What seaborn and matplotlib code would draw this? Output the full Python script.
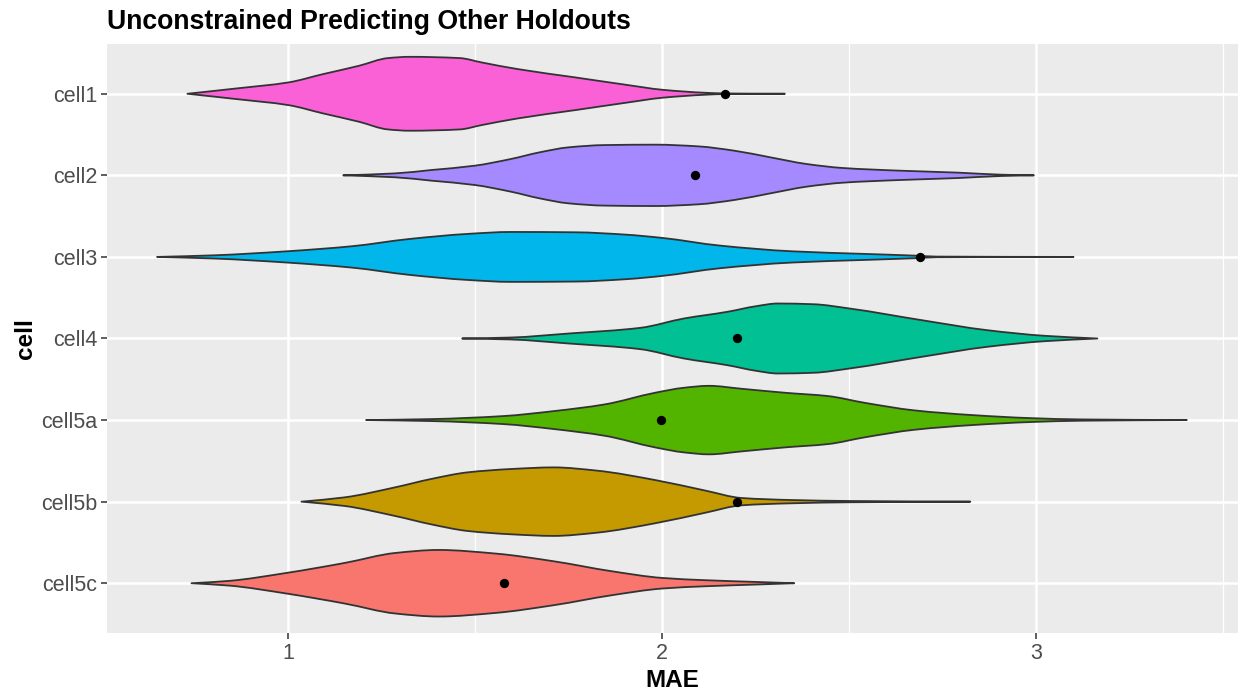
import matplotlib
matplotlib.use("Agg")
import matplotlib.pyplot as plt
from matplotlib.ticker import FixedLocator
from matplotlib.path import Path
from matplotlib.patches import PathPatch
import seaborn as sns
import numpy as np

# ---------------- data ----------------
categories = ["cell1", "cell2", "cell3", "cell4", "cell5a", "cell5b", "cell5c"]
point_mae = [2.168, 2.089, 2.689, 2.199, 1.998, 2.199, 1.577]
x_ticks = [1, 2, 3]

# violin outlines: MAE positions and half-widths (in category units)
cell1_mae = [0.730, 0.861, 1.000, 1.093, 1.189, 1.266, 1.324, 1.459, 1.517, 1.614, 1.768, 1.903, 2.000, 2.116, 2.168, 2.328]
cell1_width = [0, .065, .139, .241, .343, .437, .453, .437, .384, .302, .200, .110, .049, .012, .004, 0]

cell2_mae = [1.147, 1.286, 1.382, 1.498, 1.595, 1.672, 1.749, 1.846, 1.981, 2.097, 2.193, 2.290, 2.386, 2.483, 2.637, 2.792, 2.907, 2.994]
cell2_width = [0, .024, .065, .118, .200, .282, .343, .371, .376, .355, .302, .220, .139, .090, .057, .033, .008, 0]

cell3_mae = [0.649, 0.803, 0.996, 1.170, 1.324, 1.479, 1.595, 1.768, 1.903, 2.000, 2.154, 2.347, 2.541, 2.676, 2.734, 3.100]
cell3_width = [0, .020, .069, .131, .220, .282, .306, .302, .273, .233, .139, .069, .037, .016, .004, 0]

cell4_mae = [1.465, 1.595, 1.749, 1.942, 2.058, 2.174, 2.251, 2.309, 2.405, 2.502, 2.695, 2.869, 3.023, 3.164]
cell4_width = [0, .012, .061, .131, .245, .327, .396, .429, .420, .367, .224, .102, .033, 0]

cell5a_mae = [1.208, 1.382, 1.575, 1.710, 1.846, 1.981, 2.058, 2.125, 2.212, 2.328, 2.444, 2.541, 2.676, 2.830, 2.985, 3.120, 3.403]
cell5a_width = [0, .012, .049, .110, .192, .335, .396, .420, .384, .335, .294, .212, .118, .061, .024, .008, 0]

cell5b_mae = [1.035, 1.151, 1.286, 1.382, 1.479, 1.595, 1.710, 1.826, 1.981, 2.116, 2.212, 2.347, 2.502, 2.824]
cell5b_width = [0, .053, .176, .278, .359, .400, .420, .380, .265, .135, .045, .020, .008, 0]

cell5c_mae = [0.741, 0.842, 0.996, 1.151, 1.286, 1.402, 1.556, 1.710, 1.865, 2.000, 2.116, 2.251, 2.353]
cell5c_width = [0, .029, .127, .249, .371, .408, .363, .269, .147, .065, .037, .016, 0]

# ---------------- styling ----------------
fill_colors = ["#FB61D7", "#A58AFF", "#00B6EB", "#00C094", "#53B400", "#C49A00", "#F8766D"]
W, H = 1238, 692


def monotone_slopes(x, y):
    """Fritsch-Carlson tangents, used only to draw a smooth outline through the points."""
    x = np.asarray(x, float)
    y = np.asarray(y, float)
    h = np.diff(x)
    d = np.diff(y) / h
    m = np.zeros_like(y)
    m[0], m[-1] = d[0], d[-1]
    for k in range(1, len(y) - 1):
        if d[k - 1] * d[k] <= 0:
            m[k] = 0.0
        else:
            w1 = 2 * h[k] + h[k - 1]
            w2 = h[k] + 2 * h[k - 1]
            m[k] = (w1 + w2) / (w1 / d[k - 1] + w2 / d[k])
    return m


def edge_segments(x, y, m):
    verts, codes = [], []
    for k in range(len(x) - 1):
        dx = x[k + 1] - x[k]
        verts += [(x[k] + dx / 3, y[k] + m[k] * dx / 3),
                  (x[k + 1] - dx / 3, y[k + 1] - m[k + 1] * dx / 3),
                  (x[k + 1], y[k + 1])]
        codes += [Path.CURVE4] * 3
    return verts, codes


def violin_path(mae, width, pos):
    x = np.asarray(mae, float)
    w = np.asarray(width, float)
    m = monotone_slopes(x, w)
    top_y = pos - w
    verts = [(x[0], top_y[0])]
    codes = [Path.MOVETO]
    v, c = edge_segments(x, top_y, -m)
    verts += v
    codes += c
    # back along the other side
    xr = x[::-1]
    bot_y = (pos + w)[::-1]
    v, c = edge_segments(xr, bot_y, m[::-1])
    verts += v
    codes += c
    verts.append((x[0], top_y[0]))
    codes.append(Path.CLOSEPOLY)
    return Path(verts, codes)


sns.set_theme(style="darkgrid", rc={
    "axes.facecolor": "#EBEBEB",
    "grid.color": "white",
    "grid.linewidth": 1.8,
})
plt.rcParams["font.family"] = ["Liberation Sans", "DejaVu Sans"]

fig = plt.figure(figsize=(W / 100, H / 100), dpi=100)
left, right, top, bottom = 107, 1238, 44, 633
ax = fig.add_axes([left / W, 1 - bottom / H, (right - left) / W, (bottom - top) / H])

profiles = [
    (cell1_mae, cell1_width),
    (cell2_mae, cell2_width),
    (cell3_mae, cell3_width),
    (cell4_mae, cell4_width),
    (cell5a_mae, cell5a_width),
    (cell5b_mae, cell5b_width),
    (cell5c_mae, cell5c_width),
]
positions = np.arange(len(categories))

for pos, (mae, width), col in zip(positions, profiles, fill_colors):
    patch = PathPatch(violin_path(mae, width, pos), facecolor=col,
                      edgecolor="#333333", linewidth=1.3, zorder=3,
                      joinstyle="round")
    ax.add_patch(patch)

sns.scatterplot(x=point_mae, y=positions, color="black", s=45,
                linewidth=0, ax=ax, zorder=4, legend=False)

ax.set_xlim(0.515, 3.54)
ax.set_ylim(len(categories) - 1 + 0.61, -0.61)
ax.set_xticks(x_ticks)
ax.set_xticklabels([str(t) for t in x_ticks])
ax.xaxis.set_minor_locator(FixedLocator([0.5, 1.5, 2.5, 3.5]))
ax.set_yticks(positions)
ax.set_yticklabels(categories)
ax.set_axisbelow(True)
ax.grid(which="major", color="white", linewidth=1.8)
ax.grid(which="minor", axis="x", color="white", linewidth=0.9)
for s in ax.spines.values():
    s.set_visible(False)
ax.tick_params(axis="both", which="major", length=4, width=1.1, color="#333333",
               labelcolor="#4D4D4D", labelsize=15.5, pad=3,
               bottom=True, left=True)
ax.tick_params(axis="x", which="minor", length=0)

ax.set_xlabel("MAE", fontsize=17.5, fontweight="bold", color="black")
ax.set_ylabel("cell", fontsize=17.5, fontweight="bold", color="black")
ax.xaxis.set_label_coords(0.5, -(669 - bottom) / (bottom - top))
ax.yaxis.set_label_coords(-(left - 37) / (right - left), 0.5)

fig.text(left / W, 1 - 29.3 / H, "Unconstrained Predicting Other Holdouts",
         fontsize=19.2, fontweight="bold", color="black", ha="left", va="baseline")

fig.savefig("out.png", dpi=100)
